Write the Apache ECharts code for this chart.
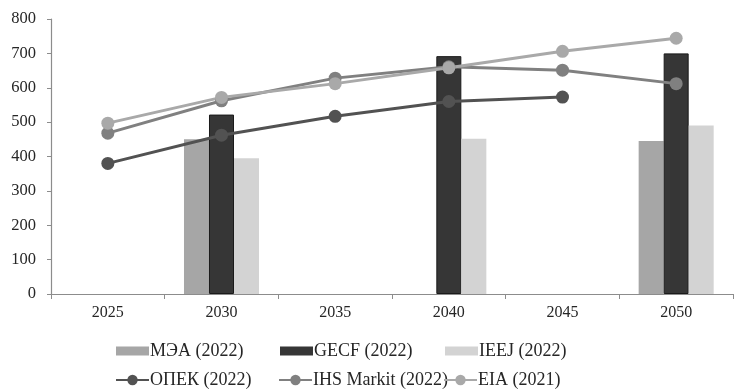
<!DOCTYPE html>
<html>
<head>
<meta charset="utf-8">
<script src="https://cdn.jsdelivr.net/npm/echarts@6/dist/echarts.min.js"></script>
<style>
  html, body { margin: 0; padding: 0; background: #ffffff; }
  #chart { width: 734px; height: 391px; }
</style>
</head>
<body>
<div id="chart"></div>
<script>
// Years on the horizontal axis
const categories = ['2025', '2030', '2035', '2040', '2045', '2050'];

// Bar series
const meaValues  = [null, 450, null, null, null, 445];
const gecfValues = [null, 522, null, 692, null, 700];
const ieejValues = [null, 395, null, 452, null, 490];

// Line series
const opecValues = [380, 462, 517, 560, 573, null];
const ihsValues  = [468, 562, 628, 661, 651, 612];
const eiaValues  = [497, 572, 612, 658, 706, 744];

// Value axis ticks
const yTicks = { min: 0, max: 800, interval: 100 };

const FONT = '"Liberation Serif", "Times New Roman", serif';
const TEXT = '#262626';

const names = {
  mea: 'МЭА (2022)', gecf: 'GECF (2022)', ieej: 'IEEJ (2022)',
  opec: 'ОПЕК (2022)', ihs: 'IHS Markit (2022)', eia: 'EIA (2021)'
};

function legendAt(name, left, top, isLine) {
  return {
    data: [isLine ? { name: name } : { name: name, icon: 'rect' }],
    left: left, top: top,
    itemWidth: 33, itemHeight: isLine ? 13 : 9, itemGap: 0, padding: 0,
    itemStyle: isLine ? {} : { borderWidth: 0 },
    textStyle: { fontFamily: FONT, fontSize: 18, color: TEXT, padding: [0, 0, 0, -4] }
  };
}

function barSeries(name, data, color, border) {
  return {
    name: name, type: 'bar', data: data,
    barGap: '0%', barCategoryGap: '34%',
    itemStyle: { color: color, borderColor: border, borderWidth: border ? 1 : 0 },
    z: 2
  };
}

function lineSeries(name, data, color) {
  return {
    name: name, type: 'line', data: data,
    symbol: 'circle', symbolSize: 13, connectNulls: false,
    lineStyle: { color: color, width: 3 },
    itemStyle: { color: color },
    z: 5
  };
}

const chart = echarts.init(document.getElementById('chart'));
chart.setOption({
  animation: false,
  backgroundColor: '#ffffff',
  textStyle: { fontFamily: FONT },
  grid: { left: 51, right: 1, top: 19, bottom: 97 },
  legend: [
    legendAt(names.mea, 116, 342, false),
    legendAt(names.gecf, 280, 342, false),
    legendAt(names.ieej, 445, 342, false),
    legendAt(names.opec, 115, 371, true),
    legendAt(names.ihs, 278, 371, true),
    legendAt(names.eia, 443, 371, true)
  ],
  xAxis: {
    type: 'category', data: categories,
    axisLine: { lineStyle: { color: '#8c8c8c', width: 1.2 } },
    axisTick: { show: true, length: 5, inside: false, lineStyle: { color: '#8c8c8c' } },
    axisLabel: { fontFamily: FONT, fontSize: 16, color: TEXT, margin: 11 },
    splitLine: { show: false }
  },
  yAxis: {
    type: 'value', min: yTicks.min, max: yTicks.max, interval: yTicks.interval,
    axisLine: { show: true, lineStyle: { color: '#8c8c8c', width: 1.2 } },
    axisTick: { show: true, length: 4, lineStyle: { color: '#8c8c8c' } },
    axisLabel: { fontFamily: FONT, fontSize: 16.5, color: TEXT, margin: 15 },
    splitLine: { show: false }
  },
  series: [
    barSeries(names.mea, meaValues, '#a6a6a6', null),
    barSeries(names.gecf, gecfValues, '#363636', '#1a1a1a'),
    barSeries(names.ieej, ieejValues, '#d3d3d3', null),
    lineSeries(names.opec, opecValues, '#525252'),
    lineSeries(names.ihs, ihsValues, '#808080'),
    lineSeries(names.eia, eiaValues, '#a9a9a9')
  ]
});
</script>
</body>
</html>
